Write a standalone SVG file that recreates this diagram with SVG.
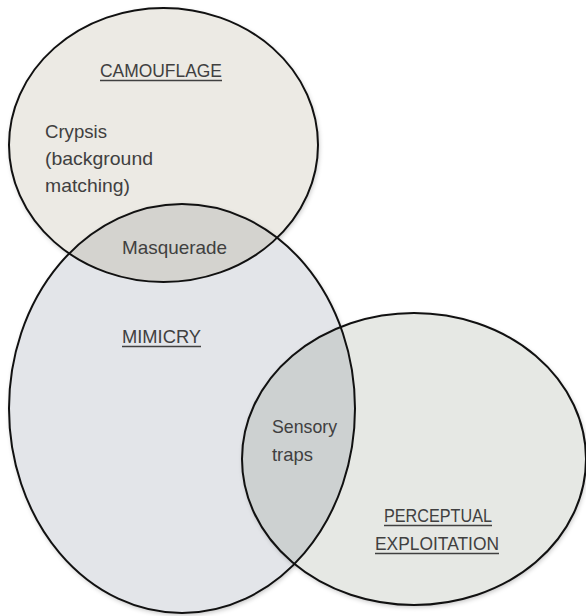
<svg xmlns="http://www.w3.org/2000/svg" width="586" height="616" viewBox="0 0 586 616">
  <style>
    .lbl { font-family: "Liberation Sans", Arial, sans-serif; font-size: 19px; fill: #404040; }
    .ul { stroke: #404040; stroke-width: 1.3; }
    .outline { fill: none; stroke: #111111; stroke-width: 2; }
  </style>
  <defs>
    <clipPath id="clipCam">
      <ellipse cx="163.5" cy="145" rx="154.5" ry="137"/>
    </clipPath>
    <clipPath id="clipPer">
      <ellipse cx="414" cy="459" rx="172" ry="146"/>
    </clipPath>
    <filter id="shadow" x="-10%" y="-10%" width="120%" height="120%">
      <feGaussianBlur in="SourceAlpha" stdDeviation="2.5"/>
      <feOffset dx="1" dy="1.5" result="b"/>
      <feComponentTransfer><feFuncA type="linear" slope="0.25"/></feComponentTransfer>
      <feMerge><feMergeNode/><feMergeNode in="SourceGraphic"/></feMerge>
    </filter>
  </defs>
  <rect width="586" height="616" fill="#ffffff"/>

  <g id="camouflage">
    <ellipse cx="163.5" cy="145" rx="154.5" ry="137" fill="#ECEAE4" filter="url(#shadow)"/>
  </g>
  <g id="mimicry">
    <ellipse cx="182" cy="408.5" rx="173" ry="204.5" fill="#E3E5E9" filter="url(#shadow)"/>
  </g>
  <g id="perceptual-exploitation">
    <ellipse cx="414" cy="459" rx="172" ry="146" fill="#E6E8E4" filter="url(#shadow)"/>
  </g>
  <g id="masquerade">
    <ellipse cx="182" cy="408.5" rx="173" ry="204.5" fill="#D4D3CF" clip-path="url(#clipCam)"/>
  </g>
  <g id="sensory-traps">
    <ellipse cx="182" cy="408.5" rx="173" ry="204.5" fill="#CDD1D1" clip-path="url(#clipPer)"/>
  </g>

  <g id="connectors">
    <ellipse class="outline" cx="163.5" cy="145" rx="154.5" ry="137"/>
    <ellipse class="outline" cx="182" cy="408.5" rx="173" ry="204.5"/>
    <ellipse class="outline" cx="414" cy="459" rx="172" ry="146"/>
  </g>

  <g id="labels">
    <text class="lbl" x="100" y="77" textLength="122" lengthAdjust="spacingAndGlyphs">CAMOUFLAGE</text>
    <line class="ul" x1="100" y1="80.5" x2="222" y2="80.5"/>
    <text class="lbl" x="45" y="138" textLength="62" lengthAdjust="spacingAndGlyphs">Crypsis</text>
    <text class="lbl" x="45" y="165" textLength="108" lengthAdjust="spacingAndGlyphs">(background</text>
    <text class="lbl" x="45" y="192" textLength="85" lengthAdjust="spacingAndGlyphs">matching)</text>
    <text class="lbl" x="122" y="254" textLength="105" lengthAdjust="spacingAndGlyphs">Masquerade</text>
    <text class="lbl" x="122" y="343" textLength="79" lengthAdjust="spacingAndGlyphs">MIMICRY</text>
    <line class="ul" x1="122" y1="346.5" x2="201" y2="346.5"/>
    <text class="lbl" x="272" y="433" textLength="65" lengthAdjust="spacingAndGlyphs">Sensory</text>
    <text class="lbl" x="272" y="461" textLength="41" lengthAdjust="spacingAndGlyphs">traps</text>
    <text class="lbl" x="384" y="522" textLength="108" lengthAdjust="spacingAndGlyphs">PERCEPTUAL</text>
    <line class="ul" x1="384" y1="525.5" x2="492" y2="525.5"/>
    <text class="lbl" x="375" y="550" textLength="124" lengthAdjust="spacingAndGlyphs">EXPLOITATION</text>
    <line class="ul" x1="375" y1="553.5" x2="499" y2="553.5"/>
  </g>
</svg>
